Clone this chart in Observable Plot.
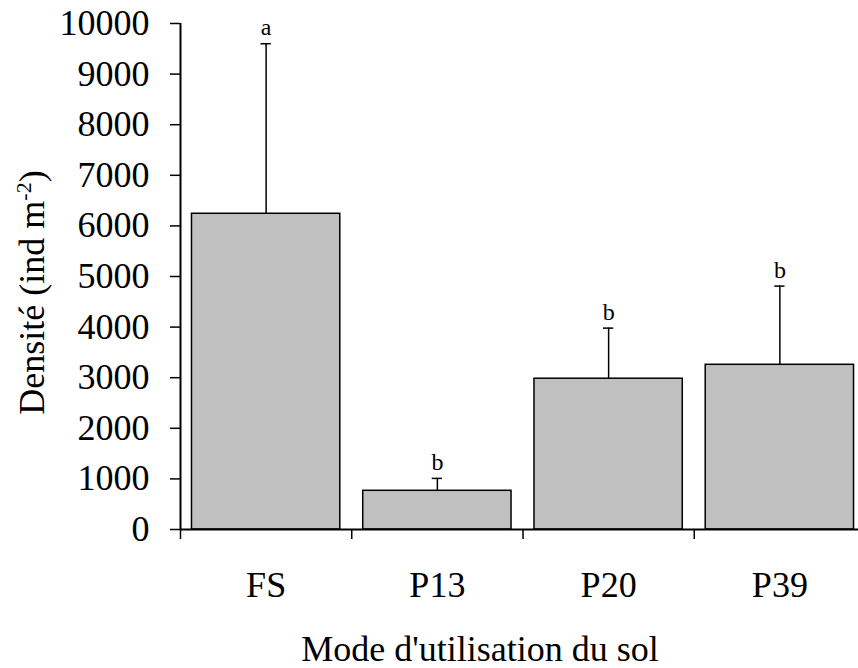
<!DOCTYPE html>
<html>
<head>
<meta charset="utf-8">
<script src="https://cdn.jsdelivr.net/npm/d3@7"></script>
<script src="https://cdn.jsdelivr.net/npm/@observablehq/plot@0.6"></script>
<style>
  html, body { margin: 0; padding: 0; background: #fff; }
  #chart svg { display: block; }
</style>
</head>
<body>
<div id="chart"></div>
<script>
const categories = ["FS", "P13", "P20", "P39"];
const means = [6240, 765, 2980, 3255];
const errors = [3360, 245, 1000, 1555];
const letters = ["a", "b", "b", "b"];
const yTicks = [0, 1000, 2000, 3000, 4000, 5000, 6000, 7000, 8000, 9000, 10000];
const xTitle = "Mode d'utilisation du sol";
const yTitle = "Densité (ind m-2)";

const data = categories.map((c, i) => ({
  cat: c, i, mean: means[i], top: means[i] + errors[i], letter: letters[i]
}));

const plot = Plot.plot({
  width: 858,
  height: 668,
  marginLeft: 180,
  marginRight: -7,
  marginTop: 23,
  marginBottom: 139,
  style: { fontFamily: "'Liberation Serif', 'Times New Roman', serif", color: "#000", background: "#fff" },
  x: { type: "linear", domain: [0, 4], axis: null },
  y: { domain: [0, 10000], axis: null },
  marks: [
    Plot.rectY(data, {
      x1: d => d.i + 0.067, x2: d => d.i + 0.933, y1: 0, y2: "mean",
      fill: "#c0c0c0", stroke: "#000", strokeWidth: 1.5
    }),
    Plot.ruleX(data, { x: d => d.i + 0.5, y1: "mean", y2: "top", stroke: "#000", strokeWidth: 1.5 }),
    Plot.ruleY(data, { y: "top", x1: d => d.i + 0.47, x2: d => d.i + 0.53, stroke: "#000", strokeWidth: 1.5 }),
    Plot.text(data, { x: d => d.i + 0.5, y: "top", text: "letter", dy: -16, fontSize: 24, fill: "#000" }),
    Plot.ruleX([0], { stroke: "#000", strokeWidth: 2 }),
    Plot.ruleY([0], { stroke: "#000", strokeWidth: 2 }),
    Plot.axisY({
      ticks: yTicks, tickSize: 10, tickPadding: 21, fontSize: 36,
      tickFormat: d => String(d), label: null, strokeWidth: 1.5
    }),
    Plot.axisX({
      ticks: [0, 1, 2, 3], tickSize: 10, tickFormat: () => "", label: null, strokeWidth: 1.5
    }),
    Plot.axisX({
      ticks: [0.5, 1.5, 2.5, 3.5], tickSize: 0, tickPadding: 42, fontSize: 36,
      tickFormat: d => categories[Math.floor(d)], label: null
    }),
    Plot.text([xTitle], {
      frameAnchor: "bottom", textAnchor: "middle", lineAnchor: "bottom",
      dx: -43, dy: 131, fontSize: 36, fill: "#000", text: d => d
    }),
    Plot.text([yTitle], {
      frameAnchor: "left", textAnchor: "middle", lineAnchor: "middle", rotate: -90,
      dx: -148, dy: 16, fontSize: 36, fill: "#000", text: d => d
    })
  ]
});

// Render the exponent of the y title as a superscript
plot.querySelectorAll("text").forEach(t => {
  if (t.textContent === yTitle) {
    const target = t.querySelector("tspan") || t;
    target.textContent = "";
    const ns = "http://www.w3.org/2000/svg";
    const a = document.createElementNS(ns, "tspan");
    a.textContent = "Densité (ind m";
    const b = document.createElementNS(ns, "tspan");
    b.textContent = "-2";
    b.setAttribute("font-size", "22");
    b.setAttribute("dy", "-13");
    const c = document.createElementNS(ns, "tspan");
    c.textContent = ")";
    c.setAttribute("dy", "13");
    target.appendChild(a); target.appendChild(b); target.appendChild(c);
  }
});

document.getElementById("chart").appendChild(plot);
</script>
</body>
</html>
